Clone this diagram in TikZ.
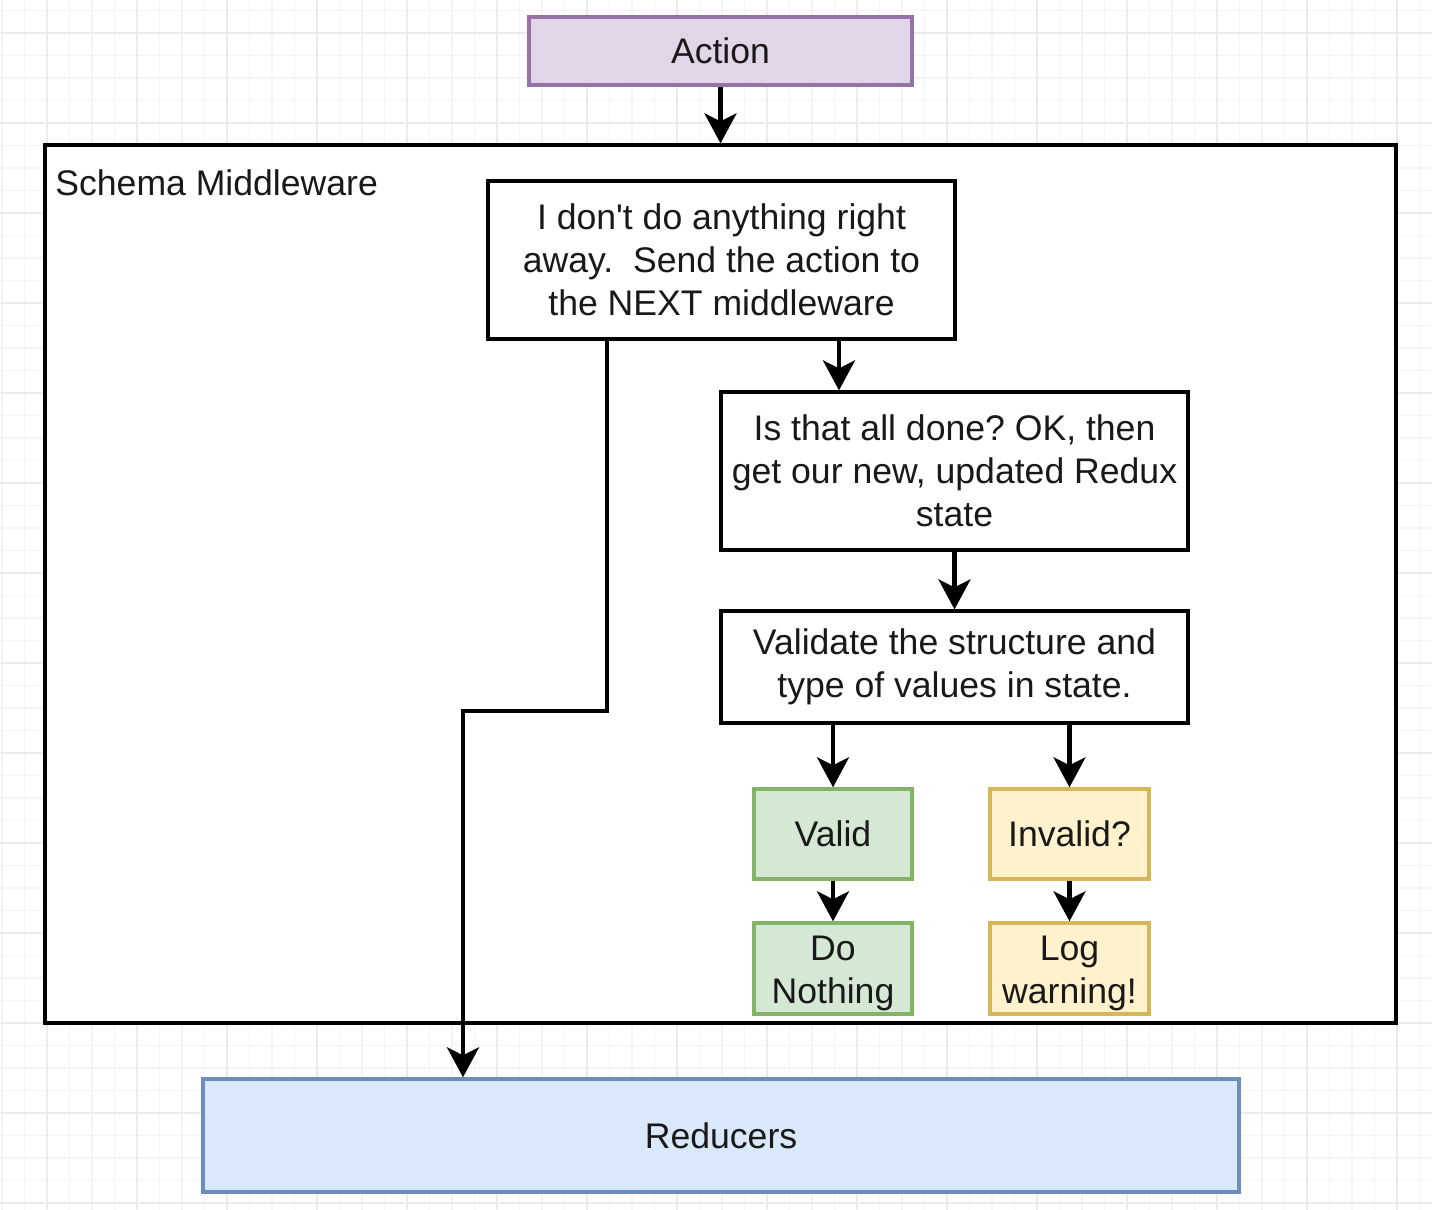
\documentclass[tikz,border=0pt]{standalone}
\usepackage{fontspec}
\setmainfont{Liberation Sans}
\usetikzlibrary{arrows.meta,calc}
\definecolor{actfill}{HTML}{E1D5E7}
\definecolor{actdraw}{HTML}{9673A6}
\definecolor{grnfill}{HTML}{D5E8D4}
\definecolor{grndraw}{HTML}{82B366}
\definecolor{ylwfill}{HTML}{FFF2CC}
\definecolor{ylwdraw}{HTML}{D6B656}
\definecolor{blufill}{HTML}{DAE8FC}
\definecolor{bludraw}{HTML}{6C8EBF}
\definecolor{gridminor}{HTML}{F4F4F6}
\definecolor{gridmajor}{HTML}{EBEBEF}
\frenchspacing
\tikzset{
  px/.style={x=0.5pt,y=-0.5pt},
  box/.style={draw=black,line width=1.6pt,fill=white,inner sep=0pt,align=center,
    font=\fontsize{17.8}{21.5}\selectfont,text=black!90},
  cbox/.style={box,line width=1.7pt},
  arr/.style={draw=black,line width=2.2pt,-{Stealth[length=15pt,width=16pt,inset=4pt]}},
  link/.style={draw=black,line width=2.2pt}
}
\begin{document}
\begin{tikzpicture}[px]
\useasboundingbox (0,0) rectangle (1432,1210);
\fill[white] (0,0) rectangle (1432,1210);
% grid
\foreach \gx in {2,24.5,...,1432} {\draw[gridminor,line width=0.6pt] (\gx,0) -- (\gx,1210);}
\foreach \gy in {10.5,33,...,1210} {\draw[gridminor,line width=0.6pt] (0,\gy) -- (1432,\gy);}
\foreach \gx in {47,137,...,1432} {\draw[gridmajor,line width=0.7pt] (\gx,0) -- (\gx,1210);}
\foreach \gy in {33,123,...,1210} {\draw[gridmajor,line width=0.7pt] (0,\gy) -- (1432,\gy);}

\node[box,anchor=center,minimum width=675.5pt,minimum height=439pt] (outer) at (720.5,584) {};
\node[anchor=base west,inner sep=0pt,font=\fontsize{17.8}{21.5}\selectfont,text=black!90] (lbl) at (55,195) {Schema Middleware};

\node[cbox,fill=actfill,draw=actdraw,minimum width=191.5pt,minimum height=34pt] (action) at (720.5,51) {Action};

\node[box,minimum width=233.5pt,minimum height=79pt] (b1) at (721.5,260) {I don\textquotesingle t do anything right\\away.\ \ Send the action to\\the NEXT middleware};
\node[box,minimum width=233.5pt,minimum height=79pt] (b2) at (954.5,471) {Is that all done? OK, then\\get our new, updated Redux\\state};
\node[box,minimum width=233.5pt,minimum height=56pt] (b3) at (954.5,667) {Validate the structure and\\type of values in state.};

\node[cbox,fill=grnfill,draw=grndraw,minimum width=79pt,minimum height=45pt] (valid) at (833,834) {Valid};
\node[cbox,fill=ylwfill,draw=ylwdraw,minimum width=79.5pt,minimum height=45pt] (invalid) at (1069.5,834) {Invalid?};
\node[cbox,fill=grnfill,draw=grndraw,minimum width=79pt,minimum height=45.5pt] (dn) at (833,968.5) {\rule{0pt}{17.5pt}Do\\Nothing};
\node[cbox,fill=ylwfill,draw=ylwdraw,minimum width=79.5pt,minimum height=45.5pt] (lw) at (1069.5,968.5) {\rule{0pt}{17.5pt}Log\\warning!};

\node[cbox,fill=blufill,draw=bludraw,minimum width=518pt,minimum height=56.5pt] (red) at (721,1135.5) {Reducers};

% connectors
\draw[arr] (action.south) -- (action.south |- outer.north);
\coordinate (s1) at ([xshift=58.75pt]b1.south);
\draw[arr] (s1) -- (s1 |- b2.north);
\draw[arr] (b2.south) -- (b3.north);
\draw[arr] (valid.north |- b3.south) -- (valid.north);
\draw[arr] (invalid.north |- b3.south) -- (invalid.north);
\draw[arr] (valid.south) -- (dn.north);
\draw[arr] (invalid.south) -- (lw.north);
\coordinate (s2) at ([xshift=-57.25pt]b1.south);
\coordinate (bend) at (463,711);
\draw[arr] (s2) -- (s2 |- bend) -- (bend) -- (bend |- red.north);
\end{tikzpicture}
\end{document}
